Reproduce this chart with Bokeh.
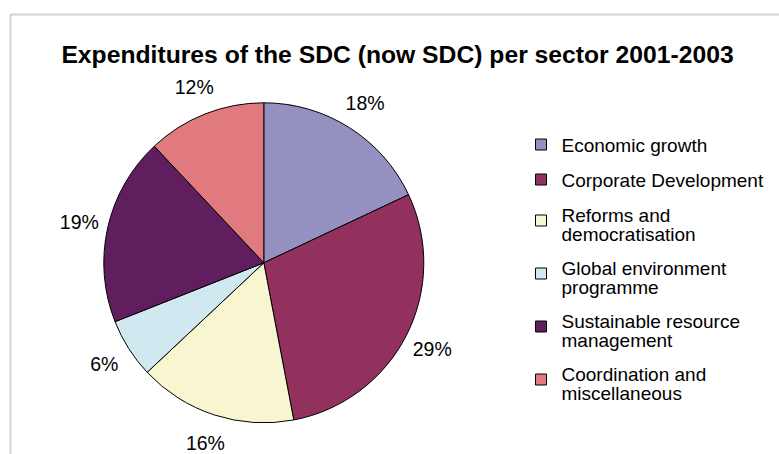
import numpy as np
from bokeh.plotting import figure
from bokeh.models import Range1d, ColumnDataSource
from bokeh.core.properties import value
from bokeh.embed import file_html
from bokeh.resources import INLINE

# --- data -------------------------------------------------------------
title = "Expenditures of the SDC (now SDC) per sector 2001-2003"
sectors = [
    "Economic growth",
    "Corporate Development",
    "Reforms and democratisation",
    "Global environment programme",
    "Sustainable resource management",
    "Coordination and miscellaneous",
]
legend_lines = [
    ["Economic growth"],
    ["Corporate Development"],
    ["Reforms and", "democratisation"],
    ["Global environment", "programme"],
    ["Sustainable resource", "management"],
    ["Coordination and", "miscellaneous"],
]
shares = [18, 29, 16, 6, 19, 12]
colors = ["#9490C0", "#93315E", "#F8F6D0", "#D0E8F0", "#601E5E", "#E17A7E"]

# --- canvas (1 data unit = 1 px, y measured upward) -------------------
W, H = 779, 454
FONT = value("Liberation Sans")

p = figure(width=W, height=H, x_range=Range1d(0, W), y_range=Range1d(0, H),
           output_backend="svg", toolbar_location=None, min_border=0)
p.axis.visible = False
p.grid.visible = False
p.outline_line_color = None
p.background_fill_color = "white"
p.border_fill_color = "white"

# chart-area frame (top and left edges)
p.line(x=[10, 10, W], y=[0, H - 14, H - 14], line_color="#D4D4D4", line_width=2)

# title
p.text(x=[397], y=[H - 54], text=[title], text_font=FONT, text_font_size="24.7px",
       text_font_style="bold", text_align="center", text_baseline="middle",
       text_color="black")

# --- pie --------------------------------------------------------------
cx, cy, r = 263.3, H - 262.3, 160
frac = np.array(shares, dtype=float) / sum(shares)
cum_end = np.cumsum(frac)
cum_start = cum_end - frac
start = np.pi / 2 - 2 * np.pi * cum_start
end = np.pi / 2 - 2 * np.pi * cum_end

src = ColumnDataSource(dict(start=start, end=end, color=colors, sector=sectors))
p.wedge(x=cx, y=cy, radius=r, start_angle="start", end_angle="end",
        direction="clock", fill_color="color", line_color="black",
        line_width=1, source=src)

# percentage labels outside each slice, along its mid angle
mid = np.pi / 2 - 2 * np.pi * (cum_start + frac / 2)
lab_r = r + 29
p.text(x=cx + lab_r * np.cos(mid), y=cy + lab_r * np.sin(mid),
       text=[f"{s}%" for s in shares], text_font=FONT, text_font_size="19.5px",
       text_align="center", text_baseline="middle", text_color="black")

# --- legend -----------------------------------------------------------
line_step = 18.5
sq_x, txt_x = 540.5, 561
y0 = 145
sq_y, tx, ty, tt = [], [], [], []
y = y0
for lines in legend_lines:
    sq_y.append(H - (y + (5 if len(lines) > 1 else -1)))
    for k, t in enumerate(lines):
        tx.append(txt_x)
        ty.append(H - (y + k * line_step))
        tt.append(t)
    y += 35 if len(lines) == 1 else 53

p.rect(x=[sq_x] * len(sq_y), y=sq_y, width=11, height=11, fill_color=colors,
       line_color="black", line_width=1)
p.text(x=tx, y=ty, text=tt, text_font=FONT, text_font_size="19px",
       text_align="left", text_baseline="middle", text_color="black")

open("out.html", "w").write(file_html(p, INLINE))
